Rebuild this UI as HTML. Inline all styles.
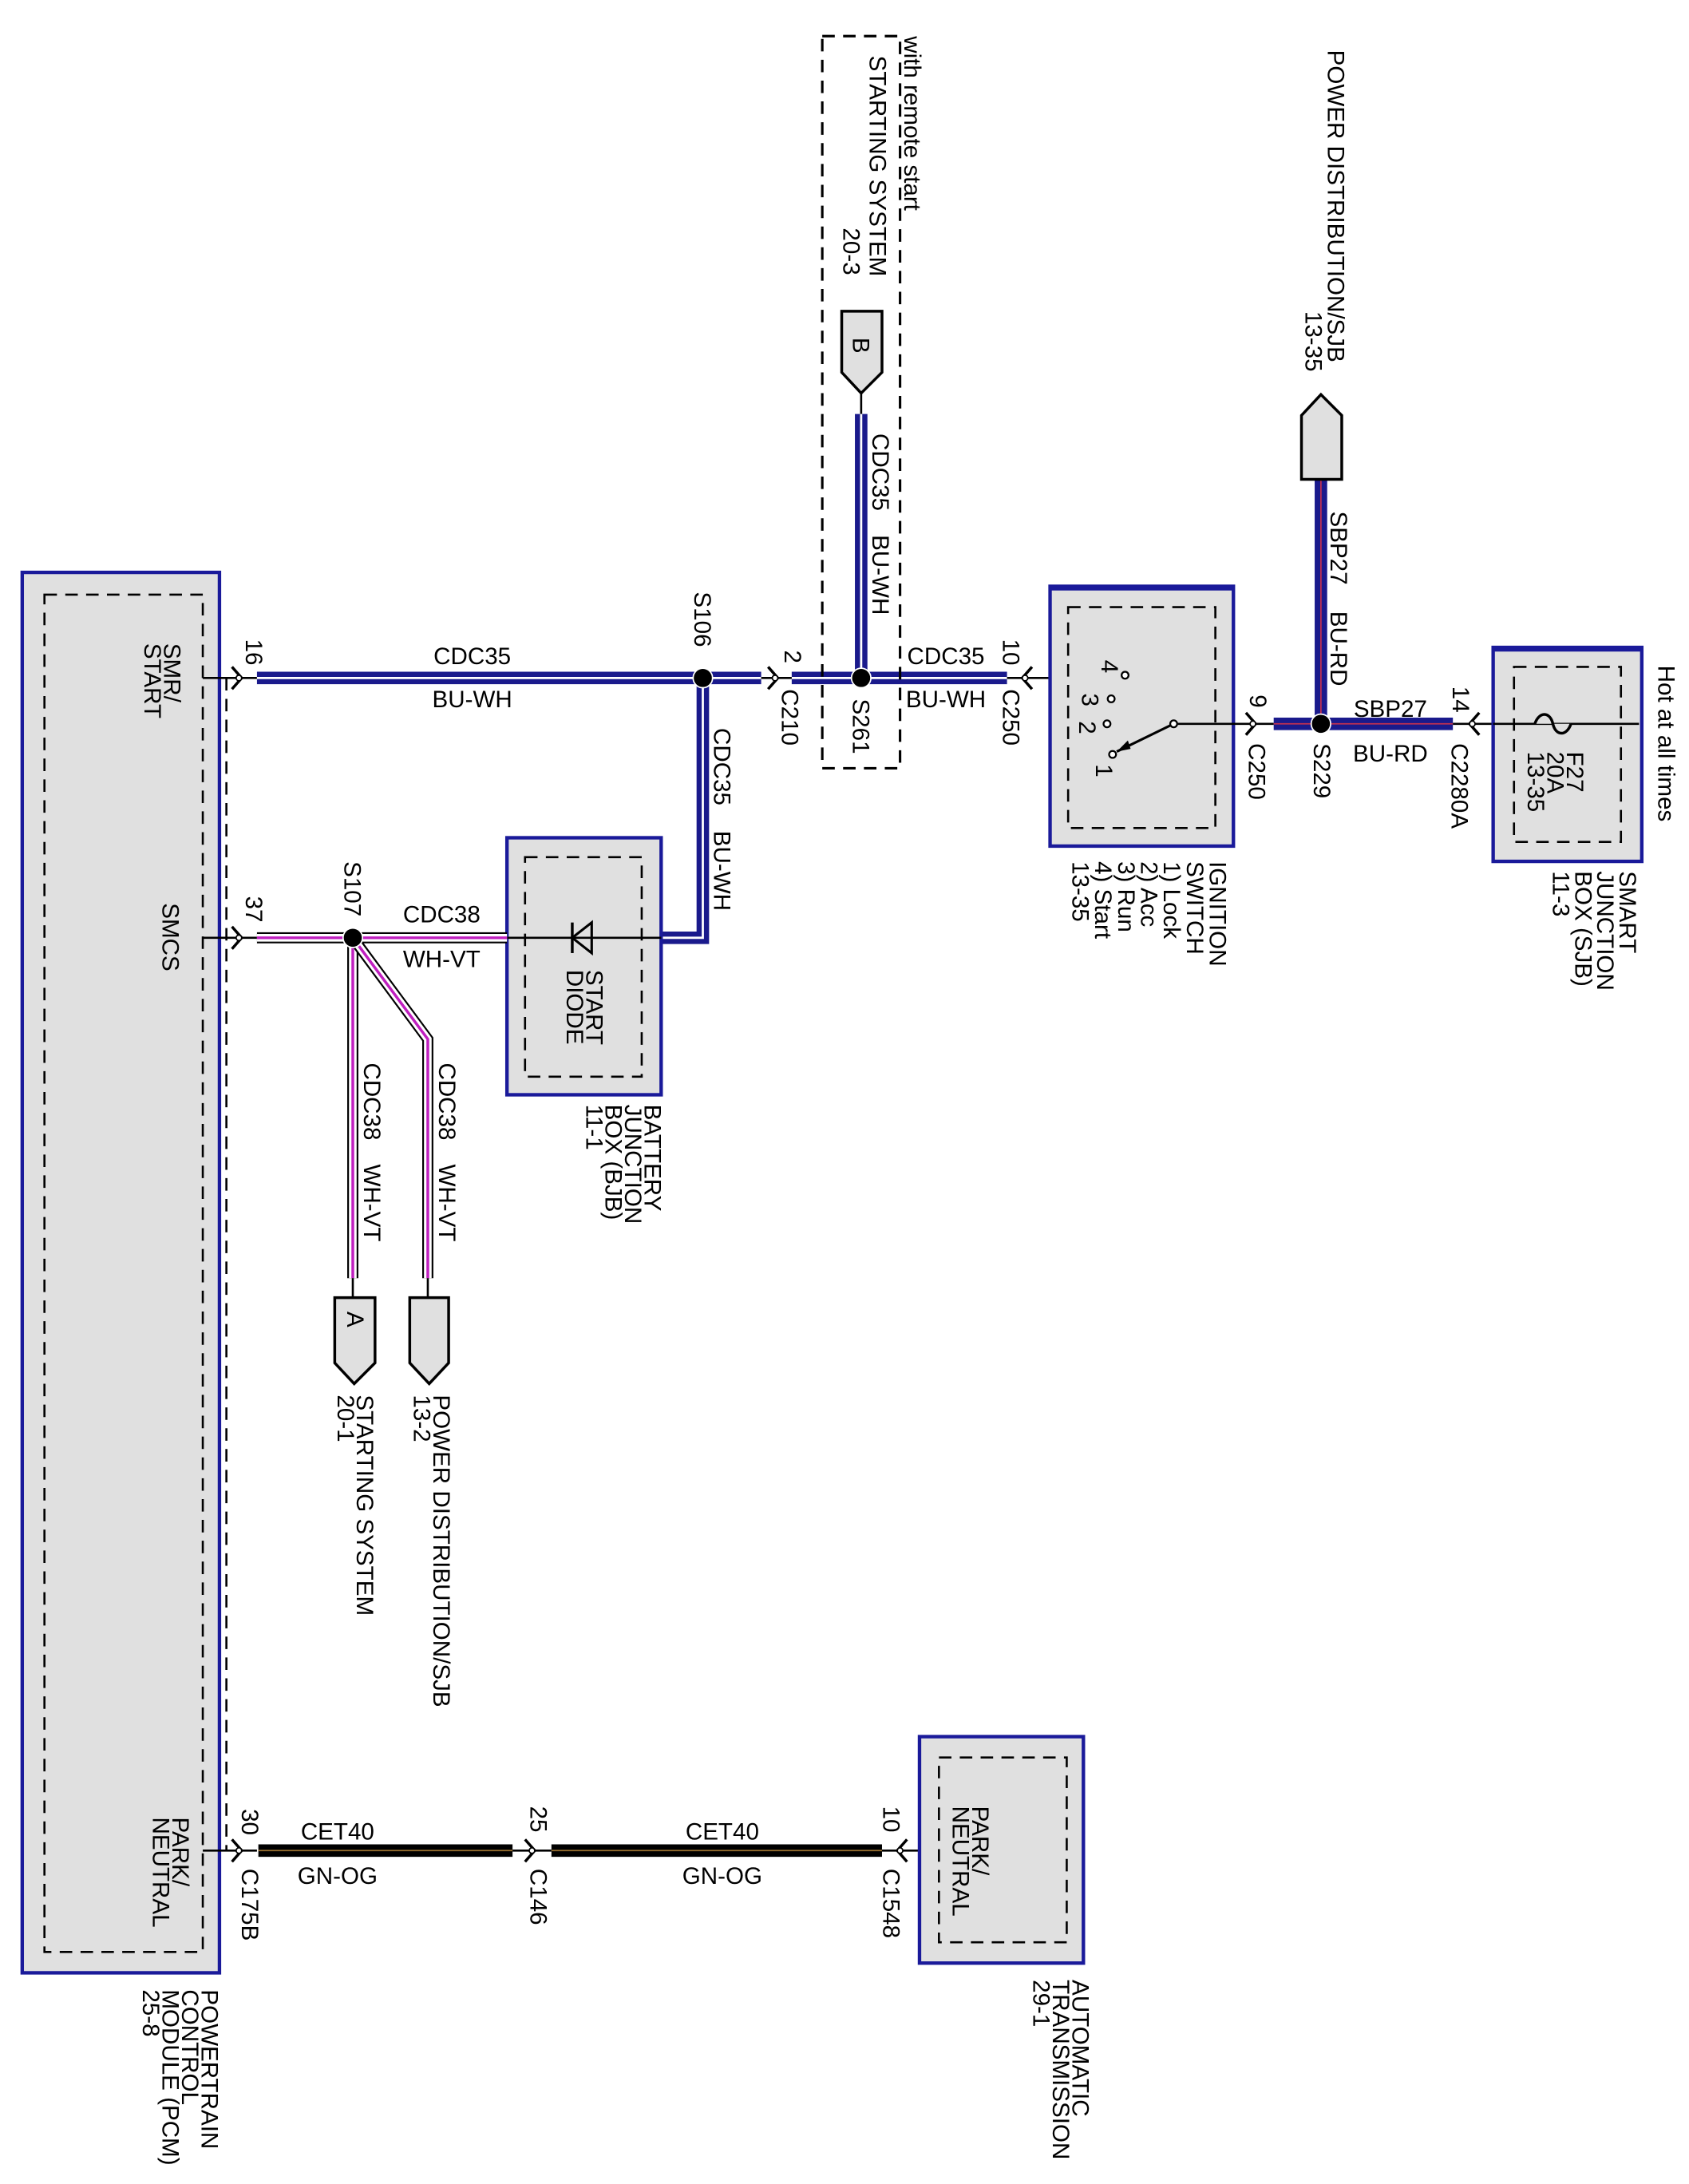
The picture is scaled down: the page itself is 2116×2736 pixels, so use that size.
<!DOCTYPE html>
<html><head><meta charset="utf-8"><style>
html,body{margin:0;padding:0;background:#fff;}
svg{display:block;}
text{font-family:"Liberation Sans",Arial,sans-serif;font-size:17px;fill:#000;}
</style></head><body>
<svg width="2116" height="2736" viewBox="0 0 1216 1572" preserveAspectRatio="none" xmlns="http://www.w3.org/2000/svg">
<defs>
<g id="cr"><path d="M-5,-8 L2,0 L-5,8" fill="none" stroke="#000" stroke-width="2"/><circle cx="0" cy="0" r="2" fill="#fff" stroke="#000" stroke-width="1"/></g>
<g id="cl"><path d="M5,-8 L-2,0 L5,8" fill="none" stroke="#000" stroke-width="2"/><circle cx="0" cy="0" r="2" fill="#fff" stroke="#000" stroke-width="1"/></g>
</defs>

<!-- PCM box -->
<rect x="16" y="412" width="142" height="1008" fill="#e0e0e0" stroke="#1a1a9a" stroke-width="2.5"/>
<rect x="32" y="428" width="114" height="977" fill="none" stroke="#000" stroke-width="1.5" stroke-dasharray="9,6"/>
<line x1="163" y1="488" x2="163" y2="1332" stroke="#000" stroke-width="1.5" stroke-dasharray="9,6"/>
<text transform="translate(118,463) rotate(90)"><tspan x="0" y="0">SMR/</tspan><tspan x="0" dy="14">START</tspan></text>
<text transform="translate(117,650) rotate(90)">SMCS</text>
<text transform="translate(124,1308) rotate(90)"><tspan x="0" y="0">PARK/</tspan><tspan x="0" dy="14">NEUTRAL</tspan></text>
<text transform="translate(145,1432) rotate(90)"><tspan x="0" y="0">POWERTRAIN</tspan><tspan x="0" dy="14">CONTROL</tspan><tspan x="0" dy="14">MODULE (PCM)</tspan><tspan x="0" dy="14">25-8</tspan></text>

<!-- Row 1 y=488 -->
<line x1="146" y1="488" x2="185" y2="488" stroke="#000" stroke-width="1.5"/>
<use href="#cr" x="172" y="488"/>
<line x1="185" y1="488" x2="548" y2="488" stroke="#1a1a8c" stroke-width="9"/>
<line x1="185" y1="488" x2="548" y2="488" stroke="#fff" stroke-width="1.6"/>
<line x1="570" y1="488" x2="725" y2="488" stroke="#1a1a8c" stroke-width="9"/>
<line x1="570" y1="488" x2="725" y2="488" stroke="#fff" stroke-width="1.6"/>
<line x1="548" y1="488" x2="570" y2="488" stroke="#000" stroke-width="1.5"/>
<use href="#cr" x="558" y="488"/>
<line x1="725" y1="488" x2="810" y2="488" stroke="#000" stroke-width="1.5"/>
<use href="#cl" x="738" y="488"/>
<text transform="translate(177,460) rotate(90)">16</text>
<text x="340" y="478" text-anchor="middle">CDC35</text>
<text x="340" y="509" text-anchor="middle">BU-WH</text>
<text transform="translate(500,426) rotate(90)">S106</text>
<text transform="translate(565,468) rotate(90)">2</text>
<text transform="translate(563,496) rotate(90)">C210</text>
<text transform="translate(614,503) rotate(90)">S261</text>
<text x="681" y="478" text-anchor="middle">CDC35</text>
<text x="681" y="509" text-anchor="middle">BU-WH</text>
<text transform="translate(722,460) rotate(90)">10</text>
<text transform="translate(722,496) rotate(90)">C250</text>

<!-- remote start dashed box -->
<rect x="592" y="26" width="56" height="527" fill="none" stroke="#000" stroke-width="1.8" stroke-dasharray="9,6"/>
<text transform="translate(651,26) rotate(90)">with remote start</text>
<text transform="translate(626,40) rotate(90)">STARTING SYSTEM</text>
<text transform="translate(607,164) rotate(90)">20-3</text>
<path d="M606,224 L635,224 L635,268 L620,283 L606,268 Z" fill="#e0e0e0" stroke="#000" stroke-width="2"/>
<text transform="translate(614,243) rotate(90)">B</text>
<line x1="620" y1="283" x2="620" y2="298" stroke="#000" stroke-width="1.5"/>
<line x1="620" y1="298" x2="620" y2="488" stroke="#1a1a8c" stroke-width="9"/>
<line x1="620" y1="298" x2="620" y2="488" stroke="#fff" stroke-width="1.6"/>
<circle cx="620" cy="488" r="7" fill="#000" stroke="#fff" stroke-width="1"/>
<text transform="translate(628,312) rotate(90)">CDC35</text>
<text transform="translate(628,385) rotate(90)">BU-WH</text>

<!-- S106 down to diode -->
<path d="M506,488 L506,675 L476,675" fill="none" stroke="#1a1a8c" stroke-width="9"/>
<path d="M506,488 L506,675 L476,675" fill="none" stroke="#fff" stroke-width="1.6"/>
<circle cx="506" cy="488" r="7" fill="#000" stroke="#fff" stroke-width="1"/>
<text transform="translate(514,524) rotate(90)">CDC35</text>
<text transform="translate(514,598) rotate(90)">BU-WH</text>

<!-- Diode box -->
<rect x="365" y="603" width="111" height="185" fill="#e0e0e0" stroke="#1a1a9a" stroke-width="2.5"/>
<rect x="378" y="617" width="84" height="158" fill="none" stroke="#000" stroke-width="1.5" stroke-dasharray="9,6"/>
<line x1="365" y1="675" x2="476" y2="675" stroke="#000" stroke-width="1.5"/>
<path d="M426,664 L426,686 L412,675 Z" fill="none" stroke="#000" stroke-width="1.8"/>
<line x1="412" y1="664" x2="412" y2="686" stroke="#000" stroke-width="2"/>
<text transform="translate(422,698) rotate(90)"><tspan x="0" y="0">START</tspan><tspan x="0" dy="14">DIODE</tspan></text>
<text transform="translate(464,795) rotate(90)"><tspan x="0" y="0">BATTERY</tspan><tspan x="0" dy="14">JUNCTION</tspan><tspan x="0" dy="14">BOX (BJB)</tspan><tspan x="0" dy="14">11-1</tspan></text>

<!-- Row 2 y=675 -->
<line x1="146" y1="675" x2="185" y2="675" stroke="#000" stroke-width="1.5"/>
<use href="#cr" x="172" y="675"/>
<g fill="none">
<path d="M185,675 L365,675" stroke="#000" stroke-width="8"/>
<path d="M185,675 L365,675" stroke="#fff" stroke-width="5.5"/>
<path d="M185,675 L365,675" stroke="#c020c0" stroke-width="2"/>
<path d="M254,675 L254,920" stroke="#000" stroke-width="8"/>
<path d="M254,675 L254,920" stroke="#fff" stroke-width="5.5"/>
<path d="M254,675 L254,920" stroke="#c020c0" stroke-width="2"/>
<path d="M254,675 L308,748 L308,920" stroke="#000" stroke-width="8"/>
<path d="M254,675 L308,748 L308,920" stroke="#fff" stroke-width="5.5"/>
<path d="M254,675 L308,748 L308,920" stroke="#c020c0" stroke-width="2"/>
</g>
<circle cx="254" cy="675" r="7" fill="#000" stroke="#fff" stroke-width="1"/>
<text transform="translate(177,645) rotate(90)">37</text>
<text transform="translate(248,620) rotate(90)">S107</text>
<text x="318" y="664" text-anchor="middle">CDC38</text>
<text x="318" y="696" text-anchor="middle">WH-VT</text>
<text transform="translate(262,765) rotate(90)">CDC38</text>
<text transform="translate(262,838) rotate(90)">WH-VT</text>
<text transform="translate(316,765) rotate(90)">CDC38</text>
<text transform="translate(316,838) rotate(90)">WH-VT</text>
<line x1="254" y1="920" x2="254" y2="934" stroke="#000" stroke-width="1.5"/>
<line x1="308" y1="920" x2="308" y2="934" stroke="#000" stroke-width="1.5"/>
<path d="M241,934 L270,934 L270,981 L255,996 L241,981 Z" fill="#e0e0e0" stroke="#000" stroke-width="2"/>
<text transform="translate(250,944) rotate(90)">A</text>
<path d="M295,934 L323,934 L323,981 L309,996 L295,981 Z" fill="#e0e0e0" stroke="#000" stroke-width="2"/>
<text transform="translate(257,1004) rotate(90)"><tspan x="0" y="0">STARTING SYSTEM</tspan><tspan x="0" dy="14">20-1</tspan></text>
<text transform="translate(312,1004) rotate(90)"><tspan x="0" y="0">POWER DISTRIBUTION/SJB</tspan><tspan x="0" dy="14">13-2</tspan></text>

<!-- Ignition switch -->
<rect x="756" y="422" width="132" height="187" fill="#e0e0e0" stroke="#1a1a9a" stroke-width="2.5"/>
<line x1="756" y1="423" x2="888" y2="423" stroke="#1a1a9a" stroke-width="4"/>
<rect x="769" y="437" width="106" height="159" fill="none" stroke="#000" stroke-width="1.5" stroke-dasharray="9,6"/>
<circle cx="810" cy="486" r="2.5" fill="#fff" stroke="#000" stroke-width="1.3"/>
<circle cx="800" cy="503" r="2.5" fill="#fff" stroke="#000" stroke-width="1.3"/>
<circle cx="797" cy="521" r="2.5" fill="#fff" stroke="#000" stroke-width="1.3"/>
<circle cx="801" cy="543" r="2.5" fill="#fff" stroke="#000" stroke-width="1.3"/>
<line x1="845" y1="521" x2="804" y2="541" stroke="#000" stroke-width="1.8"/>
<path d="M804,541 L812,533 L814,539 Z" fill="#000"/>
<circle cx="845" cy="521" r="2.5" fill="#fff" stroke="#000" stroke-width="1.3"/>
<line x1="848" y1="521" x2="917" y2="521" stroke="#000" stroke-width="1.5"/>
<use href="#cr" x="902" y="521"/>
<text transform="translate(793,475) rotate(90)">4</text>
<text transform="translate(779,499) rotate(90)">3</text>
<text transform="translate(777,519) rotate(90)">2</text>
<text transform="translate(789,550) rotate(90)">1</text>
<text transform="translate(871,620) rotate(90)"><tspan x="0" y="0">IGNITION</tspan><tspan x="0" dy="16.5">SWITCH</tspan><tspan x="0" dy="16.5">1) Lock</tspan><tspan x="0" dy="16.5">2) Acc</tspan><tspan x="0" dy="16.5">3) Run</tspan><tspan x="0" dy="16.5">4) Start</tspan><tspan x="0" dy="16.5">13-35</tspan></text>

<!-- S229 -->
<line x1="917" y1="521" x2="1046" y2="521" stroke="#1a1a8c" stroke-width="9"/>
<line x1="917" y1="521" x2="1046" y2="521" stroke="#c03050" stroke-width="1"/>
<line x1="951" y1="345" x2="951" y2="521" stroke="#1a1a8c" stroke-width="9"/>
<line x1="951" y1="345" x2="951" y2="521" stroke="#c03050" stroke-width="1"/>
<circle cx="951" cy="521" r="7" fill="#000" stroke="#fff" stroke-width="1"/>
<line x1="1046" y1="521" x2="1180" y2="521" stroke="#000" stroke-width="1.5"/>
<use href="#cl" x="1060" y="521"/>
<path d="M937,345 L966,345 L966,299 L951,284 L937,299 Z" fill="#e0e0e0" stroke="#000" stroke-width="2"/>
<text transform="translate(956,36) rotate(90)">POWER DISTRIBUTION/SJB</text>
<text transform="translate(940,224) rotate(90)">13-35</text>
<text transform="translate(958,368) rotate(90)">SBP27</text>
<text transform="translate(958,440) rotate(90)">BU-RD</text>
<text transform="translate(900,500) rotate(90)">9</text>
<text transform="translate(899,535) rotate(90)">C250</text>
<text transform="translate(946,535) rotate(90)">S229</text>
<text x="1001" y="516" text-anchor="middle">SBP27</text>
<text x="1001" y="548" text-anchor="middle">BU-RD</text>
<text transform="translate(1046,494) rotate(90)">14</text>
<text transform="translate(1045,535) rotate(90)">C2280A</text>

<!-- SJB box -->
<rect x="1075" y="466" width="107" height="154" fill="#e0e0e0" stroke="#1a1a9a" stroke-width="2.5"/>
<line x1="1075" y1="467" x2="1182" y2="467" stroke="#1a1a9a" stroke-width="4"/>
<rect x="1090" y="480" width="77" height="126" fill="none" stroke="#000" stroke-width="1.5" stroke-dasharray="9,6"/>
<line x1="1075" y1="521" x2="1180" y2="521" stroke="#000" stroke-width="1.5"/>
<path d="M1105,521 C1108,512 1116,512 1118,521 C1120,530 1128,530 1131,521" fill="#e0e0e0" stroke="#000" stroke-width="2"/>
<text transform="translate(1128,541) rotate(90)"><tspan x="0" y="0">F27</tspan><tspan x="0" dy="14">20A</tspan><tspan x="0" dy="14">13-35</tspan></text>
<text transform="translate(1194,479) rotate(90)">Hot at all times</text>
<text transform="translate(1166,627) rotate(90)"><tspan x="0" y="0">SMART</tspan><tspan x="0" dy="16">JUNCTION</tspan><tspan x="0" dy="16">BOX (SJB)</tspan><tspan x="0" dy="16">11-3</tspan></text>

<!-- Bottom row y=1332 -->
<line x1="146" y1="1332" x2="185" y2="1332" stroke="#000" stroke-width="1.5"/>
<use href="#cr" x="172" y="1332"/>
<line x1="186" y1="1332" x2="369" y2="1332" stroke="#000" stroke-width="9"/>
<line x1="186" y1="1332" x2="369" y2="1332" stroke="#9a7030" stroke-width="1"/>
<line x1="369" y1="1332" x2="397" y2="1332" stroke="#000" stroke-width="1.5"/>
<use href="#cr" x="383" y="1332"/>
<line x1="397" y1="1332" x2="635" y2="1332" stroke="#000" stroke-width="9"/>
<line x1="397" y1="1332" x2="635" y2="1332" stroke="#9a7030" stroke-width="1"/>
<line x1="635" y1="1332" x2="662" y2="1332" stroke="#000" stroke-width="1.5"/>
<use href="#cl" x="648" y="1332"/>
<text transform="translate(174,1302) rotate(90)">30</text>
<text transform="translate(174,1345) rotate(90)">C175B</text>
<text x="243" y="1324" text-anchor="middle">CET40</text>
<text x="243" y="1356" text-anchor="middle">GN-OG</text>
<text transform="translate(382,1300) rotate(90)">25</text>
<text transform="translate(382,1345) rotate(90)">C146</text>
<text x="520" y="1324" text-anchor="middle">CET40</text>
<text x="520" y="1356" text-anchor="middle">GN-OG</text>
<text transform="translate(636,1300) rotate(90)">10</text>
<text transform="translate(636,1345) rotate(90)">C1548</text>

<!-- Transmission box -->
<rect x="662" y="1250" width="118" height="163" fill="#e0e0e0" stroke="#1a1a9a" stroke-width="2.5"/>
<rect x="676" y="1265" width="92" height="133" fill="none" stroke="#000" stroke-width="1.5" stroke-dasharray="9,6"/>
<text transform="translate(700,1300) rotate(90)"><tspan x="0" y="0">PARK/</tspan><tspan x="0" dy="14">NEUTRAL</tspan></text>
<text transform="translate(772,1425) rotate(90)"><tspan x="0" y="0">AUTOMATIC</tspan><tspan x="0" dy="14">TRANSMISSION</tspan><tspan x="0" dy="14">29-1</tspan></text>
</svg>
</body></html>
